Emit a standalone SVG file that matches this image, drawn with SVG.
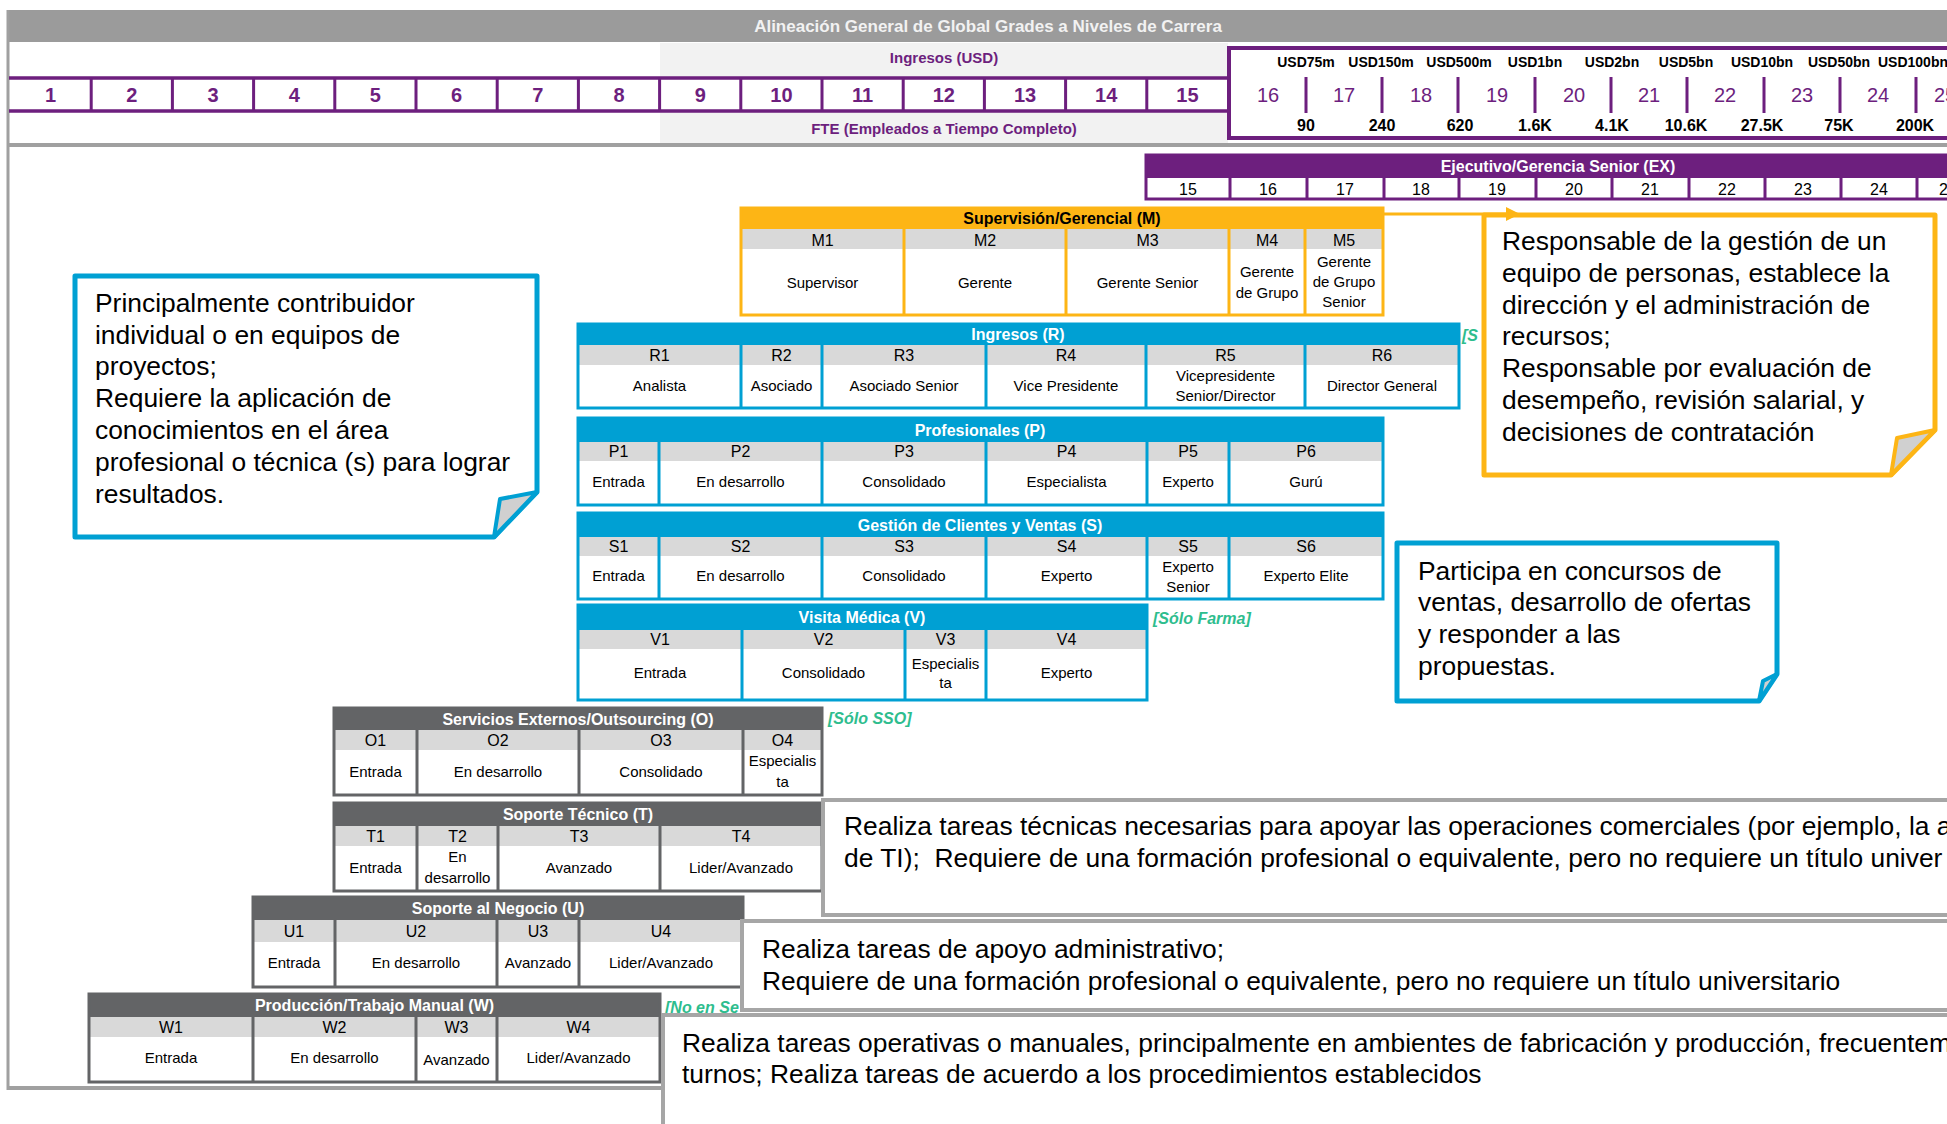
<svg xmlns="http://www.w3.org/2000/svg" width="1947" height="1124" viewBox="0 0 1947 1124">
<style>
text{font-family:"Liberation Sans",Arial,sans-serif}
.ttl{font-size:17px;font-weight:bold;fill:#f2f2f2;text-anchor:middle}
.pl{font-size:15px;font-weight:bold;fill:#6d1f7e;text-anchor:middle}
.gn{font-size:20px;font-weight:bold;fill:#6d1f7e;text-anchor:middle}
.gn2{font-size:20px;fill:#6d1f7e;text-anchor:middle}
.us{font-size:14px;font-weight:bold;fill:#000;text-anchor:middle}
.ft{font-size:16px;font-weight:bold;fill:#000;text-anchor:middle}
.hd{font-size:16px;font-weight:bold;fill:#fff;text-anchor:middle}
.hk{font-size:16px;font-weight:bold;fill:#000;text-anchor:middle}
.cd{font-size:16px;fill:#000;text-anchor:middle}
.ds{font-size:15px;fill:#000;text-anchor:middle}
.co{font-size:26.4px;fill:#000}
.gr{font-size:16px;font-weight:bold;font-style:italic;fill:#2ebd8e}
.ex{font-size:16px;fill:#000;text-anchor:middle}
.codeRow{fill:#d9d9d9}
.wh{fill:#fff}
.frame{fill:none;stroke-width:3}
.bl{stroke:#00a0d3}
.or{stroke:#fdb515}
.dg{stroke:#636466}
.pu{stroke:#6d1f7e}
.callG{fill:#fff;stroke:#a6a6a6;stroke-width:4}
.fold{fill:#d0d0d0;stroke-width:4;stroke-linejoin:round}
</style>
<defs>
<marker id="arrO" markerUnits="userSpaceOnUse" markerWidth="14" markerHeight="14" viewBox="0 0 14 14" refX="0" refY="7" orient="auto">
<path d="M0,0 L14,7 L0,14 Z" fill="#fdb515"/>
</marker>
</defs>

<!-- Frame & header -->
<g id="frame">
<rect x="8" y="10" width="1939" height="32" fill="#9b9b9b"/>
<text class="ttl" x="988" y="32">Alineación General de Global Grades a Niveles de Carrera</text>
<rect x="660" y="43" width="568" height="100" fill="#f2f2f2"/>
<line x1="8" y1="10" x2="8" y2="1090" stroke="#a0a0a0" stroke-width="3"/>
<line x1="8" y1="145" x2="1947" y2="145" stroke="#a0a0a0" stroke-width="4"/>
<line x1="8" y1="1088" x2="663" y2="1088" stroke="#a0a0a0" stroke-width="4"/>
<text class="pl" x="944" y="63">Ingresos (USD)</text>
<text class="pl" x="944" y="134">FTE (Empleados a Tiempo Completo)</text>
</g>

<g id="grades-1-15">
<rect x="10" y="78" width="1218" height="33" fill="#fff"/>
<path d="M9 78H1229M9 111H1229" stroke="#6d1f7e" stroke-width="3.5"/>
<path d="M91.2 78V111M172.4 78V111M253.6 78V111M334.8 78V111M416 78V111M497.2 78V111M578.4 78V111M659.6 78V111M740.8 78V111M822 78V111M903.2 78V111M984.4 78V111M1065.6 78V111M1146.8 78V111" stroke="#6d1f7e" stroke-width="3"/>
<text class="gn" x="50.6" y="102">1</text>
<text class="gn" x="131.8" y="102">2</text>
<text class="gn" x="213" y="102">3</text>
<text class="gn" x="294.2" y="102">4</text>
<text class="gn" x="375.4" y="102">5</text>
<text class="gn" x="456.6" y="102">6</text>
<text class="gn" x="537.8" y="102">7</text>
<text class="gn" x="619" y="102">8</text>
<text class="gn" x="700.2" y="102">9</text>
<text class="gn" x="781.4" y="102">10</text>
<text class="gn" x="862.6" y="102">11</text>
<text class="gn" x="943.8" y="102">12</text>
<text class="gn" x="1025" y="102">13</text>
<text class="gn" x="1106.2" y="102">14</text>
<text class="gn" x="1187.4" y="102">15</text>
</g>

<g id="grades-16-25">
<rect x="1229" y="48" width="760" height="90" fill="#fff" stroke="#6d1f7e" stroke-width="4"/>
<path d="M1306 77V113M1382 77V113M1458 77V113M1535 77V113M1611 77V113M1687 77V113M1764 77V113M1840 77V113M1916 77V113" stroke="#6d1f7e" stroke-width="3"/>
<text class="us" x="1306" y="67">USD75m</text>
<text class="us" x="1381" y="67">USD150m</text>
<text class="us" x="1459" y="67">USD500m</text>
<text class="us" x="1535" y="67">USD1bn</text>
<text class="us" x="1612" y="67">USD2bn</text>
<text class="us" x="1686" y="67">USD5bn</text>
<text class="us" x="1762" y="67">USD10bn</text>
<text class="us" x="1839" y="67">USD50bn</text>
<text class="us" x="1913" y="67">USD100bn</text>
<text class="gn2" x="1268" y="102">16</text>
<text class="gn2" x="1344" y="102">17</text>
<text class="gn2" x="1421" y="102">18</text>
<text class="gn2" x="1497" y="102">19</text>
<text class="gn2" x="1574" y="102">20</text>
<text class="gn2" x="1649" y="102">21</text>
<text class="gn2" x="1725" y="102">22</text>
<text class="gn2" x="1802" y="102">23</text>
<text class="gn2" x="1878" y="102">24</text>
<text class="gn2" x="1945" y="102">25</text>
<text class="ft" x="1306" y="131">90</text>
<text class="ft" x="1382" y="131">240</text>
<text class="ft" x="1460" y="131">620</text>
<text class="ft" x="1535" y="131">1.6K</text>
<text class="ft" x="1612" y="131">4.1K</text>
<text class="ft" x="1686" y="131">10.6K</text>
<text class="ft" x="1762" y="131">27.5K</text>
<text class="ft" x="1839" y="131">75K</text>
<text class="ft" x="1915" y="131">200K</text>
</g>

<g id="band-EX">
<rect x="1146" y="155" width="850" height="23" fill="#6d1f7e"/>
<rect x="1146" y="178" width="850" height="21" fill="#fff"/>
<path d="M1230 178V199M1307 178V199M1384 178V199M1459 178V199M1536 178V199M1612 178V199M1689 178V199M1765 178V199M1841 178V199M1917 178V199" stroke="#6d1f7e" stroke-width="3"/>
<rect x="1146" y="155" width="850" height="44" class="frame pu"/>
<text class="hd" x="1558" y="172">Ejecutivo/Gerencia Senior (EX)</text>
<text class="ex" x="1188" y="195">15</text>
<text class="ex" x="1268" y="195">16</text>
<text class="ex" x="1345" y="195">17</text>
<text class="ex" x="1421" y="195">18</text>
<text class="ex" x="1497" y="195">19</text>
<text class="ex" x="1574" y="195">20</text>
<text class="ex" x="1650" y="195">21</text>
<text class="ex" x="1727" y="195">22</text>
<text class="ex" x="1803" y="195">23</text>
<text class="ex" x="1879" y="195">24</text>
<text class="ex" x="1948" y="195">25</text>
</g>

<g id="band-M">
<rect x="741" y="208" width="642" height="21" fill="#fdb515"/>
<rect x="741" y="229" width="642" height="20" class="codeRow"/>
<rect x="741" y="249" width="642" height="66" class="wh"/>
<path d="M904 229V315M1066 229V315M1229 229V315M1305 229V315" class="or" stroke-width="3"/>
<rect x="741" y="208" width="642" height="107" class="frame or"/>
<text class="hk" x="1062" y="224">Supervisión/Gerencial (M)</text>
<text class="cd" x="822.5" y="246">M1</text>
<text class="cd" x="985" y="246">M2</text>
<text class="cd" x="1147.5" y="246">M3</text>
<text class="cd" x="1267" y="246">M4</text>
<text class="cd" x="1344" y="246">M5</text>
<text class="ds" x="822.5" y="288">Supervisor</text>
<text class="ds" x="985" y="288">Gerente</text>
<text class="ds" x="1147.5" y="288">Gerente Senior</text>
<text class="ds" x="1267" y="277">Gerente</text>
<text class="ds" x="1267" y="298">de Grupo</text>
<text class="ds" x="1344" y="267">Gerente</text>
<text class="ds" x="1344" y="287">de Grupo</text>
<text class="ds" x="1344" y="307">Senior</text>
</g>

<g id="band-R">
<rect x="578" y="324" width="881" height="21" fill="#00a0d3"/>
<rect x="578" y="345" width="881" height="20" class="codeRow"/>
<rect x="578" y="365" width="881" height="43" class="wh"/>
<path d="M741 345V408M822 345V408M986 345V408M1146 345V408M1305 345V408" class="bl" stroke-width="3"/>
<rect x="578" y="324" width="881" height="84" class="frame bl"/>
<text class="hd" x="1018" y="340">Ingresos (R)</text>
<text class="cd" x="659.5" y="361">R1</text>
<text class="cd" x="781.5" y="361">R2</text>
<text class="cd" x="904" y="361">R3</text>
<text class="cd" x="1066" y="361">R4</text>
<text class="cd" x="1225.5" y="361">R5</text>
<text class="cd" x="1382" y="361">R6</text>
<text class="ds" x="659.5" y="391">Analista</text>
<text class="ds" x="781.5" y="391">Asociado</text>
<text class="ds" x="904" y="391">Asociado Senior</text>
<text class="ds" x="1066" y="391">Vice Presidente</text>
<text class="ds" x="1225.5" y="381">Vicepresidente</text>
<text class="ds" x="1225.5" y="401">Senior/Director</text>
<text class="ds" x="1382" y="391">Director General</text>
</g>

<g id="band-P">
<rect x="578" y="418" width="805" height="24" fill="#00a0d3"/>
<rect x="578" y="442" width="805" height="19" class="codeRow"/>
<rect x="578" y="461" width="805" height="44" class="wh"/>
<path d="M659 442V505M822 442V505M986 442V505M1147 442V505M1229 442V505" class="bl" stroke-width="3"/>
<rect x="578" y="418" width="805" height="87" class="frame bl"/>
<text class="hd" x="980" y="436">Profesionales (P)</text>
<text class="cd" x="618.5" y="457">P1</text>
<text class="cd" x="740.5" y="457">P2</text>
<text class="cd" x="904" y="457">P3</text>
<text class="cd" x="1066.5" y="457">P4</text>
<text class="cd" x="1188" y="457">P5</text>
<text class="cd" x="1306" y="457">P6</text>
<text class="ds" x="618.5" y="487">Entrada</text>
<text class="ds" x="740.5" y="487">En desarrollo</text>
<text class="ds" x="904" y="487">Consolidado</text>
<text class="ds" x="1066.5" y="487">Especialista</text>
<text class="ds" x="1188" y="487">Experto</text>
<text class="ds" x="1306" y="487">Gurú</text>
</g>

<g id="band-S">
<rect x="578" y="513" width="805" height="24" fill="#00a0d3"/>
<rect x="578" y="537" width="805" height="19" class="codeRow"/>
<rect x="578" y="556" width="805" height="43" class="wh"/>
<path d="M659 537V599M822 537V599M986 537V599M1147 537V599M1229 537V599" class="bl" stroke-width="3"/>
<rect x="578" y="513" width="805" height="86" class="frame bl"/>
<text class="hd" x="980" y="531">Gestión de Clientes y Ventas (S)</text>
<text class="cd" x="618.5" y="552">S1</text>
<text class="cd" x="740.5" y="552">S2</text>
<text class="cd" x="904" y="552">S3</text>
<text class="cd" x="1066.5" y="552">S4</text>
<text class="cd" x="1188" y="552">S5</text>
<text class="cd" x="1306" y="552">S6</text>
<text class="ds" x="618.5" y="581">Entrada</text>
<text class="ds" x="740.5" y="581">En desarrollo</text>
<text class="ds" x="904" y="581">Consolidado</text>
<text class="ds" x="1066.5" y="581">Experto</text>
<text class="ds" x="1188" y="572">Experto</text>
<text class="ds" x="1188" y="592">Senior</text>
<text class="ds" x="1306" y="581">Experto Elite</text>
</g>

<g id="band-V">
<rect x="578" y="605" width="569" height="25" fill="#00a0d3"/>
<rect x="578" y="630" width="569" height="19" class="codeRow"/>
<rect x="578" y="649" width="569" height="51" class="wh"/>
<path d="M742 630V700M905 630V700M986 630V700" class="bl" stroke-width="3"/>
<rect x="578" y="605" width="569" height="95" class="frame bl"/>
<text class="hd" x="862" y="623">Visita Médica (V)</text>
<text class="cd" x="660" y="645">V1</text>
<text class="cd" x="823.5" y="645">V2</text>
<text class="cd" x="945.5" y="645">V3</text>
<text class="cd" x="1066.5" y="645">V4</text>
<text class="ds" x="660" y="678">Entrada</text>
<text class="ds" x="823.5" y="678">Consolidado</text>
<text class="ds" x="945.5" y="669">Especialis</text>
<text class="ds" x="945.5" y="688">ta</text>
<text class="ds" x="1066.5" y="678">Experto</text>
</g>

<g id="band-O">
<rect x="334" y="708" width="488" height="22" fill="#636466"/>
<rect x="334" y="730" width="488" height="20" class="codeRow"/>
<rect x="334" y="750" width="488" height="45" class="wh"/>
<path d="M417 730V795M579 730V795M743 730V795" class="dg" stroke-width="3"/>
<rect x="334" y="708" width="488" height="87" class="frame dg"/>
<text class="hd" x="578" y="725">Servicios Externos/Outsourcing (O)</text>
<text class="cd" x="375.5" y="746">O1</text>
<text class="cd" x="498" y="746">O2</text>
<text class="cd" x="661" y="746">O3</text>
<text class="cd" x="782.5" y="746">O4</text>
<text class="ds" x="375.5" y="777">Entrada</text>
<text class="ds" x="498" y="777">En desarrollo</text>
<text class="ds" x="661" y="777">Consolidado</text>
<text class="ds" x="782.5" y="766">Especialis</text>
<text class="ds" x="782.5" y="787">ta</text>
</g>

<g id="band-T">
<rect x="334" y="803" width="488" height="23" fill="#636466"/>
<rect x="334" y="826" width="488" height="20" class="codeRow"/>
<rect x="334" y="846" width="488" height="45" class="wh"/>
<path d="M417 826V891M498 826V891M660 826V891" class="dg" stroke-width="3"/>
<rect x="334" y="803" width="488" height="88" class="frame dg"/>
<text class="hd" x="578" y="820">Soporte Técnico (T)</text>
<text class="cd" x="375.5" y="842">T1</text>
<text class="cd" x="457.5" y="842">T2</text>
<text class="cd" x="579" y="842">T3</text>
<text class="cd" x="741" y="842">T4</text>
<text class="ds" x="375.5" y="873">Entrada</text>
<text class="ds" x="457.5" y="862">En</text>
<text class="ds" x="457.5" y="883">desarrollo</text>
<text class="ds" x="579" y="873">Avanzado</text>
<text class="ds" x="741" y="873">Lider/Avanzado</text>
</g>

<g id="band-U">
<rect x="253" y="897" width="490" height="23" fill="#636466"/>
<rect x="253" y="920" width="490" height="22" class="codeRow"/>
<rect x="253" y="942" width="490" height="45" class="wh"/>
<path d="M335 920V987M497 920V987M579 920V987" class="dg" stroke-width="3"/>
<rect x="253" y="897" width="490" height="90" class="frame dg"/>
<text class="hd" x="498" y="914">Soporte al Negocio (U)</text>
<text class="cd" x="294" y="937">U1</text>
<text class="cd" x="416" y="937">U2</text>
<text class="cd" x="538" y="937">U3</text>
<text class="cd" x="661" y="937">U4</text>
<text class="ds" x="294" y="968">Entrada</text>
<text class="ds" x="416" y="968">En desarrollo</text>
<text class="ds" x="538" y="968">Avanzado</text>
<text class="ds" x="661" y="968">Lider/Avanzado</text>
</g>

<g id="band-W">
<rect x="89" y="994" width="571" height="23" fill="#636466"/>
<rect x="89" y="1017" width="571" height="20" class="codeRow"/>
<rect x="89" y="1037" width="571" height="45" class="wh"/>
<path d="M253 1017V1082M416 1017V1082M497 1017V1082" class="dg" stroke-width="3"/>
<rect x="89" y="994" width="571" height="88" class="frame dg"/>
<text class="hd" x="374.5" y="1011">Producción/Trabajo Manual (W)</text>
<text class="cd" x="171" y="1033">W1</text>
<text class="cd" x="334.5" y="1033">W2</text>
<text class="cd" x="456.5" y="1033">W3</text>
<text class="cd" x="578.5" y="1033">W4</text>
<text class="ds" x="171" y="1063">Entrada</text>
<text class="ds" x="334.5" y="1063">En desarrollo</text>
<text class="ds" x="456.5" y="1065">Avanzado</text>
<text class="ds" x="578.5" y="1063">Lider/Avanzado</text>
</g>

<g id="notes-green">
<text class="gr" x="1462" y="341">[S</text>
<text class="gr" x="1153" y="624">[Sólo Farma]</text>
<text class="gr" x="828" y="724">[Sólo SSO]</text>
<text class="gr" x="665" y="1013">[No en Se</text>
</g>

<g id="callout-IC">
<path d="M75,276 H537 V492 L494,537 H75 Z" fill="#fff" stroke="#00a0d3" stroke-width="5" stroke-linejoin="round"/>
<polygon points="494,537 500,499 537,492" class="fold" stroke="#00a0d3"/>
<text class="co" x="95" y="312">Principalmente contribuidor</text>
<text class="co" x="95" y="344">individual o en equipos de</text>
<text class="co" x="95" y="375">proyectos;</text>
<text class="co" x="95" y="407">Requiere la aplicación de</text>
<text class="co" x="95" y="439">conocimientos en el área</text>
<text class="co" x="95" y="471">profesional o técnica (s) para lograr</text>
<text class="co" x="95" y="503">resultados.</text>
</g>

<g id="callout-M">
<path d="M1484,215 H1935 V430 L1891,475 H1484 Z" fill="#fff" stroke="#fdb515" stroke-width="5" stroke-linejoin="round"/>
<polygon points="1891,475 1897,438 1935,430" class="fold" stroke="#fdb515"/>
<text class="co" x="1502" y="250">Responsable de la gestión de un</text>
<text class="co" x="1502" y="282">equipo de personas, establece la</text>
<text class="co" x="1502" y="314">dirección y el administración de</text>
<text class="co" x="1502" y="345">recursos;</text>
<text class="co" x="1502" y="377">Responsable por evaluación de</text>
<text class="co" x="1502" y="409">desempeño, revisión salarial, y</text>
<text class="co" x="1502" y="441">decisiones de contratación</text>
</g>

<g id="callout-S">
<path d="M1397,543 H1777 V674 L1759,701 H1397 Z" fill="#fff" stroke="#00a0d3" stroke-width="5" stroke-linejoin="round"/>
<polygon points="1759,701 1763,681 1777,674" class="fold" stroke="#00a0d3"/>
<text class="co" x="1418" y="580">Participa en concursos de</text>
<text class="co" x="1418" y="611">ventas, desarrollo de ofertas</text>
<text class="co" x="1418" y="643">y responder a las</text>
<text class="co" x="1418" y="675">propuestas.</text>
</g>

<g id="callout-T">
<rect x="823" y="800" width="1200" height="115" class="callG"/>
<text class="co" x="844" y="835">Realiza tareas técnicas necesarias para apoyar las operaciones comerciales (por ejemplo, la a</text>
<text class="co" x="844" y="867" xml:space="preserve">de TI);  Requiere de una formación profesional o equivalente, pero no requiere un título univer</text>
</g>

<g id="callout-U">
<rect x="742" y="921" width="1300" height="89" class="callG"/>
<text class="co" x="762" y="958">Realiza tareas de apoyo administrativo;</text>
<text class="co" x="762" y="990">Requiere de una formación profesional o equivalente, pero no requiere un título universitario</text>
</g>

<g id="callout-W">
<rect x="663" y="1015" width="1400" height="200" class="callG"/>
<text class="co" x="682" y="1052">Realiza tareas operativas o manuales, principalmente en ambientes de fabricación y producción, frecuentem</text>
<text class="co" x="682" y="1083">turnos; Realiza tareas de acuerdo a los procedimientos establecidos</text>
</g>

<g id="connectors">
<path d="M1384 214 H1506" fill="none" stroke="#fdb515" stroke-width="3" marker-end="url(#arrO)"/>
</g>
</svg>
